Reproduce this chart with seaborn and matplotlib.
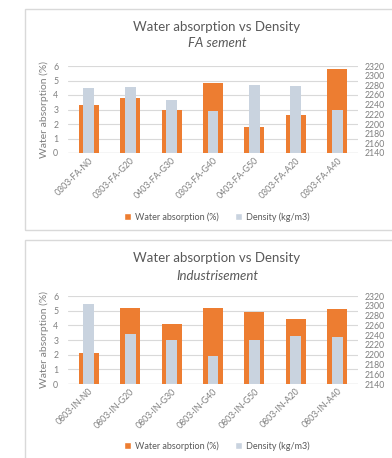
import matplotlib
matplotlib.use("Agg")
import matplotlib.pyplot as plt
from matplotlib.patches import Patch, Rectangle
import seaborn as sns

# FA sement panel
fa_labels = ["0303-FA-N0", "0303-FA-G20", "0403-FA-G30", "0303-FA-G40",
             "0403-FA-G50", "0303-FA-A20", "0303-FA-A40"]
fa_water = [3.3, 3.8, 3.0, 4.8, 1.8, 2.6, 5.8]
fa_density = [2275, 2276, 2250, 2227, 2281, 2278, 2228]

# Industrisement panel
in_labels = ["0803-IN-N0", "0803-IN-G20", "0803-IN-G30", "0803-IN-G40",
             "0803-IN-G50", "0803-IN-A20", "0803-IN-A40"]
in_water = [2.1, 5.2, 4.1, 5.2, 4.9, 4.4, 5.1]
in_density = [2303, 2243, 2231, 2197, 2230, 2239, 2236]

water_ticks = [0, 1, 2, 3, 4, 5, 6]
density_ticks = [2140, 2160, 2180, 2200, 2220, 2240, 2260, 2280, 2300, 2320]

ORANGE = "#ED7D31"
GREY = "#C9D3DF"
TXT = "#595959"
TICK = "#7F7F7F"
GRID = "#D9D9D9"

sns.set_style("white")
plt.rcParams["font.family"] = ["Lato", "DejaVu Sans"]

fig = plt.figure(figsize=(3.92, 4.58), dpi=100)
W, H = 392, 458


def px_box(x0, y0, x1, y1):
    # pixel box (top-left origin) -> figure fraction [l, b, w, h]
    return [x0 / W, 1 - y1 / H, (x1 - x0) / W, (y1 - y0) / H]


def panel(box, title_y, sub_y, legend_y, labels, water, density, subtitle):
    ax = fig.add_axes(px_box(*box))
    sns.barplot(x=labels, y=water, color=ORANGE, width=0.48, saturation=1,
                linewidth=0, ax=ax, zorder=2)
    ax.set_ylim(0, 6)
    ax.set_yticks(water_ticks)
    ax.yaxis.grid(True, color=GRID, linewidth=0.8, zorder=0)
    ax.set_axisbelow(True)
    for s in ax.spines.values():
        s.set_visible(False)
    ax.axhline(0, color=GRID, linewidth=1.0, zorder=1)
    ax.tick_params(axis="y", labelsize=6.3, colors=TICK, length=0, pad=7)
    ax.tick_params(axis="x", labelsize=6.3, colors=TICK, length=0, pad=2)
    plt.setp(ax.get_xticklabels(), rotation=45, ha="right",
             rotation_mode="anchor")
    ax.set_ylabel("Water absorption (%)", fontsize=7.5, color=TICK,
                  labelpad=3)
    ax.set_xlabel("")

    ax2 = ax.twinx()
    sns.barplot(x=labels, y=density, color=GREY, width=0.26, saturation=1,
                linewidth=0, ax=ax2)
    ax2.set_ylim(2140, 2320)
    ax2.set_yticks(density_ticks)
    for s in ax2.spines.values():
        s.set_visible(False)
    ax2.tick_params(axis="y", labelsize=6.3, colors=TICK, length=0, pad=5)
    ax2.set_ylabel("")
    ax2.grid(False)

    cx = (box[0] + box[2]) / 2 / W + 0.01
    fig.text(cx, 1 - title_y / H, "Water absorption vs Density",
             ha="center", va="center", fontsize=9.5, color=TXT)
    fig.text(cx, 1 - sub_y / H, subtitle, ha="center", va="center",
             fontsize=9.5, color=TXT, style="italic")

    handles = [Patch(facecolor=ORANGE, label="Water absorption (%)"),
               Patch(facecolor=GREY, label="Density (kg/m3)")]
    fig.legend(handles=handles, loc="center", ncol=2, frameon=False,
               bbox_to_anchor=(cx, 1 - legend_y / H), fontsize=6.5,
               handlelength=0.8, handleheight=0.8, columnspacing=1.8,
               handletextpad=0.4, labelcolor=TXT)


# panel frames
fig.patches.append(Rectangle((25 / W, 1 - 230 / H), 1, 221 / H,
                             transform=fig.transFigure, fill=False,
                             edgecolor=GRID, linewidth=1.0))
fig.patches.append(Rectangle((25 / W, -0.05), 1, 1 - 240 / H + 0.05,
                             transform=fig.transFigure, fill=False,
                             edgecolor=GRID, linewidth=1.0))

panel((68, 66, 358, 153), 27, 43, 217, fa_labels, fa_water, fa_density,
      "FA sement")
panel((68, 296, 358, 384), 258, 276, 446, in_labels, in_water, in_density,
      "Industrisement")

fig.savefig("out.png", dpi=100)
